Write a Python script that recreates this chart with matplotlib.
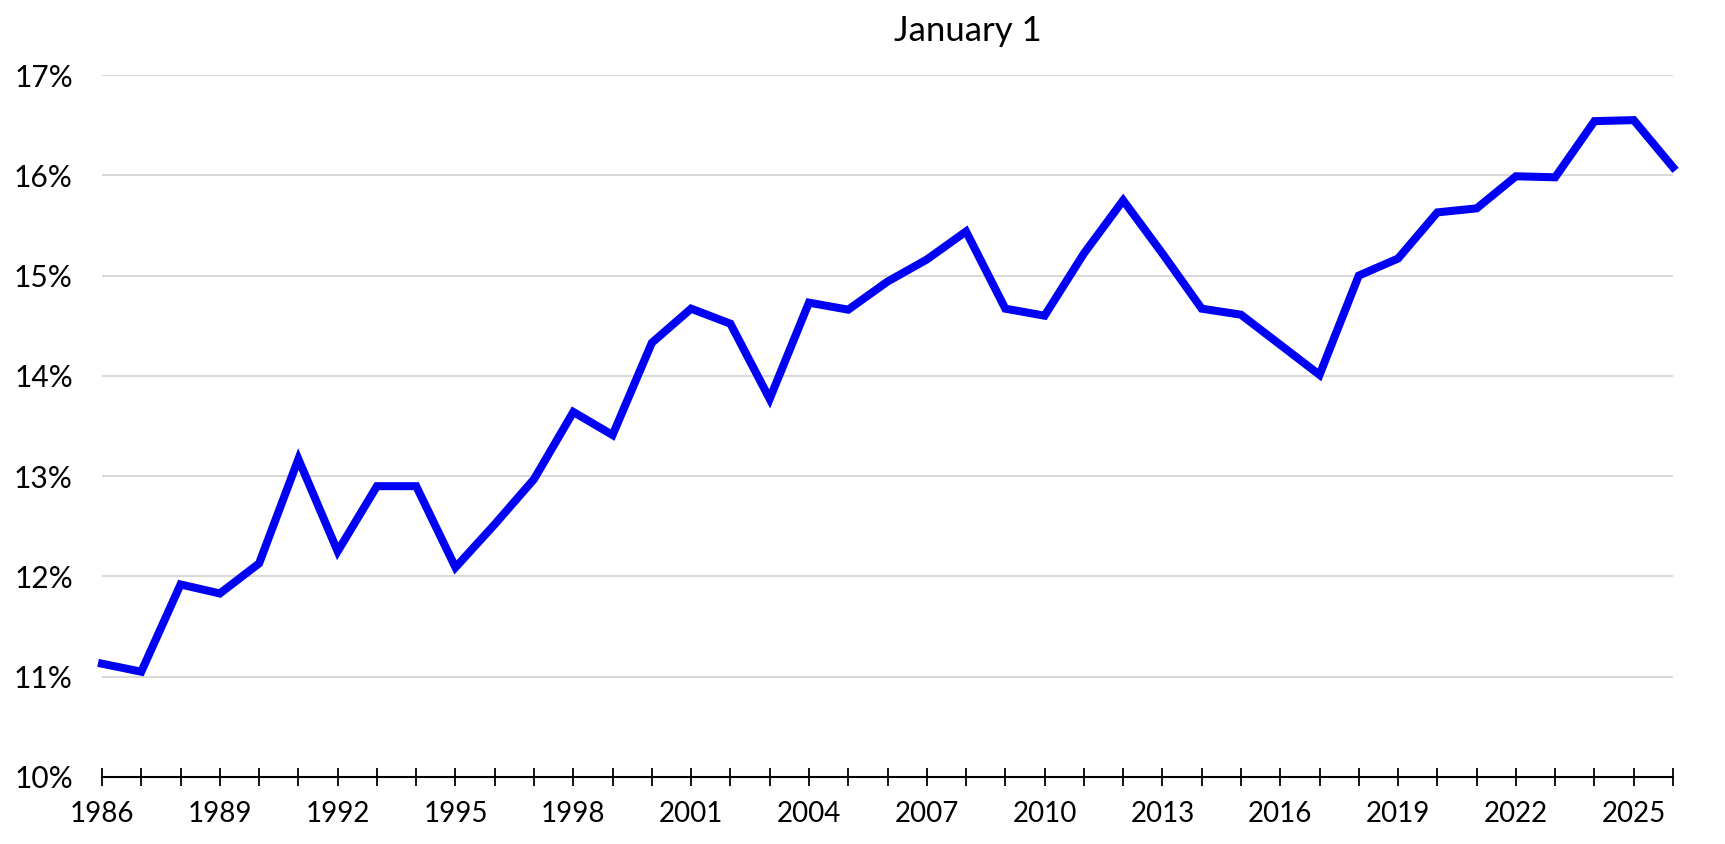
import matplotlib
matplotlib.use("Agg")
import matplotlib.pyplot as plt
from matplotlib.ticker import MultipleLocator, FuncFormatter

plt.rcParams['font.family'] = ['Lato', 'DejaVu Sans']

years = list(range(1986, 2027))
values = [11.13, 11.05, 11.92, 11.83, 12.13, 13.17, 12.25, 12.90, 12.90, 12.09,
          12.52, 12.97, 13.64, 13.41, 14.33, 14.67, 14.52, 13.77, 14.73, 14.66,
          14.94, 15.16, 15.44, 14.67, 14.60, 15.22, 15.75, 15.22, 14.67, 14.61,
          14.31, 14.01, 15.00, 15.17, 15.63, 15.67, 15.99, 15.98, 16.54, 16.55,
          16.08]
title = "January 1"

fig = plt.figure(figsize=(17.25, 8.44), dpi=100)
ax = fig.add_axes([102/1725, 1-777/844, (1673-102)/1725, (777-75)/844])

ax.plot(years, values, color="#0000F5", lw=5.8, solid_joinstyle="miter", zorder=3, clip_on=False)

ax.set_xlim(1986, 2026)
ax.set_ylim(10, 17)

ax.set_yticks(range(10, 18))
ax.yaxis.set_major_formatter(FuncFormatter(lambda v, p: f"{int(v)}%"))
for y in range(11, 18):
    ax.axhline(y, color="#D9D9D9", lw=1.5, zorder=1)

ax.xaxis.set_minor_locator(MultipleLocator(1))
ax.set_xticks(list(range(1986, 2027, 3)))

for s in ["left", "right", "top"]:
    ax.spines[s].set_visible(False)
ax.spines["bottom"].set_color("black")
ax.spines["bottom"].set_linewidth(1.5)

ax.tick_params(axis="y", length=0, pad=21, labelsize=21.5, labelcolor="black")
ax.tick_params(axis="x", which="both", direction="inout", length=13, width=1.3,
               color="black", labelsize=20, pad=11)

fig.text(968/1725, 1-31/844, title, ha="center", va="center", fontsize=25, color="black")

fig.savefig("out.png", dpi=100, facecolor="white")
